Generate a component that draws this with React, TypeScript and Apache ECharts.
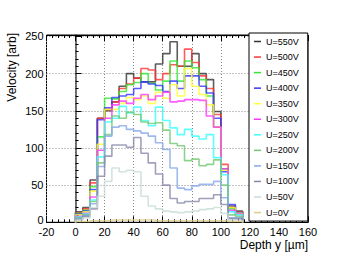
import React, { useEffect, useRef } from "react";
import * as echarts from "echarts";

// bin left edges (µm), bin width 5
const binLeft = [0, 5, 10, 15, 20, 25, 30, 35, 40, 45, 50, 55, 60, 65, 70, 75, 80, 85, 90, 95, 100, 105, 110];
const binWidth = 5;

const u550 = [14, 20, 57, 140, 150, 162, 183, 200, 194, 189, 189, 213, 227, 243, 210, 210, 227, 200, 192, 149, 72, 22, 15];
const u500 = [13, 18, 53, 140, 152, 162, 180, 186, 194, 207, 205, 192, 200, 212, 210, 233, 215, 197, 180, 145, 78, 20, 14];
const u450 = [12, 16, 48, 115, 167, 166, 176, 185, 188, 200, 187, 178, 190, 217, 190, 217, 208, 192, 170, 128, 72, 18, 13];
const u400 = [11, 15, 44, 138, 154, 168, 170, 172, 180, 189, 186, 184, 176, 190, 180, 197, 197, 183, 174, 140, 68, 24, 13];
const u350 = [10, 14, 42, 105, 152, 152, 160, 168, 165, 170, 160, 175, 167, 185, 170, 207, 183, 172, 158, 128, 70, 20, 12];
const u300 = [8, 12, 34, 97, 140, 158, 163, 160, 167, 172, 165, 170, 175, 162, 163, 165, 165, 164, 143, 128, 72, 16, 11];
const u250 = [7, 11, 30, 88, 135, 140, 156, 147, 155, 137, 130, 155, 137, 127, 118, 125, 116, 112, 118, 87, 64, 14, 10];
const u200 = [6, 10, 28, 80, 118, 143, 140, 148, 145, 135, 133, 134, 124, 106, 103, 83, 85, 76, 78, 84, 50, 10, 8];
const u150 = [5, 9, 25, 75, 116, 128, 130, 125, 123, 120, 116, 107, 98, 73, 46, 44, 49, 51, 51, 55, 33, 6, 6];
const u100 = [4, 8, 18, 62, 89, 104, 104, 101, 114, 93, 80, 65, 50, 32, 26, 28, 28, 32, 32, 37, 24, 5, 5];
const u50 = [3, 6, 20, 35, 55, 73, 68, 70, 68, 35, 22, 18, 15, 14, 13, 14, 15, 17, 18, 20, 12, 3, 2];
const u0 = [1, 1, 2, 2, 2, 3, 3, 3, 3, 3, 3, 2, 2, 2, 2, 2, 2, 2, 2, 2, 2, 1, 1];

const seriesNames = ["U=550V", "U=500V", "U=450V", "U=400V", "U=350V", "U=300V", "U=250V", "U=200V", "U=150V", "U=100V", "U=50V", "U=0V"];
const seriesValues = [u550, u500, u450, u400, u350, u300, u250, u200, u150, u100, u50, u0];
const seriesColors = ["#333333", "#ff3535", "#30e830", "#3535ff", "#ffff30", "#ff35ff", "#35ffff", "#70c870", "#88a8e8", "#8a88aa", "#c8dcd4", "#ddcc88"];

const xTicks = [-20, 160];
const yTicks = [0, 252];

const FONT = "'Liberation Sans', Arial, Helvetica, sans-serif";

function histPoints(vals: number[]) {
  const pts: number[][] = [[binLeft[0], 0]];
  vals.forEach((v, i) => pts.push([binLeft[i], v]));
  pts.push([binLeft[binLeft.length - 1] + binWidth, 0]);
  return pts;
}

export default function App() {
  const ref = useRef<HTMLDivElement>(null);
  useEffect(() => {
    if (!ref.current) return;
    const chart = echarts.init(ref.current, null, { renderer: "svg" });
    const tickLabelStyle = { fontSize: 11, lineHeight: 11, color: "#000", fontFamily: FONT };
    chart.setOption({
      animation: false,
      backgroundColor: "#fff",
      grid: {
        left: 46.5,
        top: 35,
        right: 46,
        bottom: 33.7,
        show: true,
        borderColor: "#000",
        borderWidth: 1,
      },
      xAxis: [
        {
          type: "value",
          min: xTicks[0],
          max: xTicks[1],
          interval: 20,
          axisLine: { show: true, lineStyle: { color: "#000", width: 1 } },
          axisTick: { show: true, inside: true, length: 6, lineStyle: { color: "#000" } },
          minorTick: { show: true, splitNumber: 5, length: 3, lineStyle: { color: "#000" } },
          splitLine: { show: true, lineStyle: { color: "#888", type: [1, 2], width: 1 } },
          axisLabel: { ...tickLabelStyle, margin: 4.5 },
        },
        {
          type: "value",
          position: "top",
          min: xTicks[0],
          max: xTicks[1],
          interval: 20,
          axisLine: { show: true, lineStyle: { color: "#000", width: 1 } },
          axisTick: { show: true, inside: true, length: 6, lineStyle: { color: "#000" } },
          minorTick: { show: true, splitNumber: 5, length: 3, lineStyle: { color: "#000" } },
          splitLine: { show: false },
          axisLabel: { show: false },
        },
      ],
      yAxis: {
        type: "value",
        min: yTicks[0],
        max: yTicks[1],
        interval: 50,
        axisLine: { show: true, lineStyle: { color: "#444", width: 1.5 } },
        axisTick: { show: true, inside: true, length: 6, lineStyle: { color: "#000" } },
        minorTick: { show: true, splitNumber: 5, length: 3, lineStyle: { color: "#000" } },
        splitLine: { show: true, lineStyle: { color: "#888", type: [1, 2], width: 1 } },
        axisLabel: {
          ...tickLabelStyle,
          margin: 3,
          formatter: (v: number) => (v === 0 ? "{z|0}" : v % 50 === 0 ? String(v) : ""),
          rich: {
            z: { fontSize: 11, lineHeight: 11, fontFamily: FONT, color: "#000", padding: [0, 0, 4, 0] },
          },
        },
      },
      legend: {
        show: true,
        orient: "vertical",
        left: 249,
        top: 33,
        padding: [3.5, 9, 3.5, 5],
        itemGap: 5.55,
        itemWidth: 7,
        itemHeight: 1.5,
        icon: "rect",
        backgroundColor: "#fff",
        borderColor: "#000",
        borderWidth: 1,
        borderRadius: 0,
        textStyle: { fontSize: 9, lineHeight: 10, color: "#000", fontFamily: FONT },
        data: seriesNames,
      },
      graphic: [
        {
          type: "text",
          x: 12,
          y: 33,
          rotation: Math.PI / 2,
          style: {
            text: "Velocity [arb]",
            fontSize: 12,
            fontFamily: FONT,
            fill: "#000",
            align: "right",
            verticalAlign: "middle",
          },
          z: 10,
        },
        {
          type: "text",
          x: 308,
          y: 245,
          style: {
            text: "Depth y [µm]",
            fontSize: 12,
            fontFamily: FONT,
            fill: "#000",
            align: "right",
            verticalAlign: "middle",
          },
          z: 10,
        },
      ],
      series: seriesNames.map((name, i) => ({
        name,
        type: "line",
        step: "end",
        symbol: "none",
        data: histPoints(seriesValues[i]),
        color: seriesColors[i],
        lineStyle: { color: seriesColors[i], width: 1.6, opacity: 0.8 },
        clip: true,
      })),
    });
    return () => chart.dispose();
  }, []);
  return (
    <div
      ref={ref}
      style={{ position: "absolute", left: 0, top: 0, width: 354, height: 256 }}
    />
  );
}
